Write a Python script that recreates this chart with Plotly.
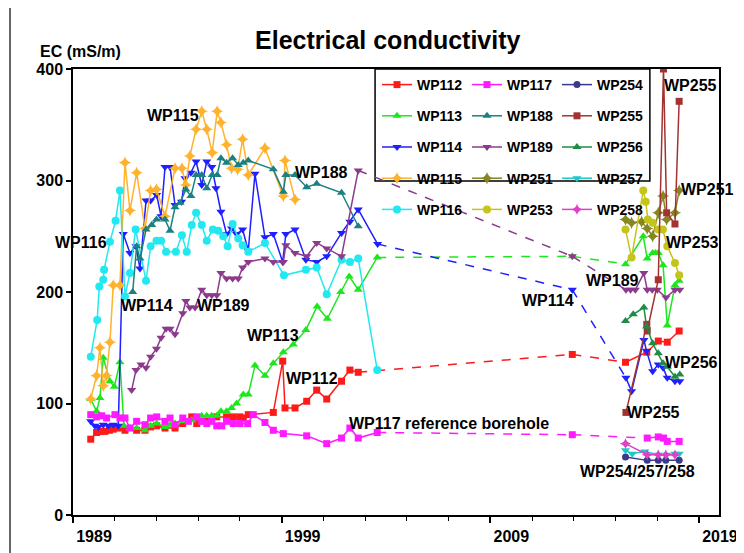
import plotly.graph_objects as go

# ---------------- data (year, EC in mS/m) ----------------
yr_WP112 = [1989.85, 1990.13, 1990.33, 1990.53, 1990.74, 1990.93, 1991.17, 1991.49, 1992.05, 1992.45,
            1992.72, 1993.01, 1993.41, 1993.89, 1994.26, 1994.69, 1994.93, 1995.41, 1995.89, 1996.36,
            1996.68, 1997.0, 1997.16, 1997.4, 1998.6, 1999.05, 1999.16, 1999.64, 2000.2, 2000.68,
            2001.16, 2001.87, 2002.27, 2002.67, 2012.93, 2015.48, 2016.5, 2017.05, 2017.48, 2018.05]
ec_WP112 = [68, 74, 75, 75, 76, 77, 78, 76, 76, 76,
            79, 80, 78, 78, 82, 88, 82, 84, 88, 88,
            88, 88, 87, 90, 92, 138, 96, 96, 102, 112,
            104, 120, 130, 128, 144, 137, 146, 156, 155, 165]

yr_WP113 = [1989.85, 1990.13, 1990.29, 1990.45, 1990.77, 1990.98, 1991.25, 1991.44, 1991.73, 1992.05,
            1992.45, 1992.72, 1993.01, 1993.41, 1993.65, 1993.89, 1994.26, 1994.69, 1995.17, 1995.41,
            1995.65, 1995.89, 1996.09, 1996.36, 1996.6, 1996.84, 1997.16, 1997.4, 1997.72, 1998.2,
            1998.6, 1999.08, 1999.56, 2000.16, 2000.7, 2001.19, 2001.83, 2002.24, 2002.67, 2003.58,
            2012.93, 2015.48, 2016.33, 2016.52, 2016.78, 2016.92, 2017.05, 2017.28, 2017.48, 2017.85, 2018.05]
ec_WP113 = [104, 93, 105, 141, 120, 115, 137, 80, 78, 78,
            76, 80, 82, 79, 81, 82, 84, 85, 89, 89,
            89, 89, 93, 93, 96, 100, 108, 108, 134, 125,
            136, 146, 153, 166, 187, 176, 200, 214, 202, 231,
            232, 225, 250, 230, 235, 235, 235, 224, 170, 206, 210]

yr_WP114 = [1989.85, 1990.05, 1990.21, 1990.45, 1990.69, 1990.93, 1991.17, 1991.41, 1991.73, 1992.02,
            1992.21, 1992.5, 1992.72, 1993.01, 1993.22, 1993.41, 1993.65, 1993.89, 1994.2, 1994.37,
            1994.65, 1994.9, 1995.17, 1995.41, 1995.65, 1995.85, 1996.09, 1996.36, 1996.6, 1996.84,
            1997.13, 1997.4, 1997.72, 1998.2, 1998.6, 1999.05, 1999.2, 1999.64, 2000.16, 2000.68,
            2001.16, 2001.87, 2002.27, 2002.67, 2003.6, 2012.93, 2015.5, 2015.77, 2016.36, 2016.49,
            2016.78, 2017.05, 2017.28, 2017.48, 2017.85, 2018.08]
ec_WP114 = [84, 80, 79, 81, 80, 81, 80, 252, 235, 241,
            221, 282, 282, 287, 268, 312, 312, 278, 281, 302,
            307, 317, 296, 317, 312, 293, 272, 252, 257, 252,
            256, 237, 306, 249, 252, 227, 252, 256, 229, 227,
            232, 253, 263, 274, 243, 202, 123, 111, 157, 147,
            129, 135, 132, 123, 120, 120]

yr_WP115 = [1989.85, 1990.13, 1990.29, 1990.45, 1990.6, 1990.77, 1990.93, 1991.25, 1991.49, 1991.73,
            1992.05, 1992.45, 1992.72, 1993.0, 1993.41, 1993.89, 1994.22, 1994.41, 1994.6, 1994.9,
            1995.17, 1995.41, 1995.67, 1995.91, 1996.09, 1996.36, 1996.6, 1996.89, 1997.13, 1997.4,
            1998.2, 1999.08, 1999.16, 1999.64]
ec_WP115 = [104, 125, 150, 116, 125, 155, 206, 206, 316, 273,
            307, 257, 291, 292, 268, 311, 311, 296, 322, 346,
            362, 346, 325, 362, 352, 332, 311, 310, 337, 305,
            329, 286, 318, 283]

yr_WP116 = [1989.85, 1990.16, 1990.26, 1990.45, 1990.49, 1990.77, 1991.04, 1991.25, 1991.49, 1991.73,
            1992.0, 1992.5, 1992.72, 1993.0, 1993.22, 1993.46, 1993.93, 1994.22, 1994.45, 1994.69,
            1994.9, 1995.17, 1995.41, 1995.7, 1995.96, 1996.2, 1996.41, 1996.65, 1996.92, 1997.13,
            1997.4, 1998.2, 1999.11, 2000.16, 2000.68, 2001.16, 2001.87, 2002.27, 2002.67, 2003.58]
ec_WP116 = [142, 175, 205, 211, 220, 245, 264, 291, 196, 217,
            256, 210, 241, 246, 246, 236, 236, 251, 236, 260,
            271, 260, 246, 256, 255, 250, 241, 261, 248, 242,
            236, 244, 215, 220, 222, 198, 229, 227, 230, 130]

yr_WP117 = [1989.85, 1990.13, 1990.37, 1990.61, 1991.01, 1991.25, 1991.49, 1991.73, 1992.05, 1992.45,
            1992.72, 1993.01, 1993.41, 1993.65, 1993.89, 1994.26, 1994.53, 1994.93, 1995.17, 1995.41,
            1995.65, 1995.89, 1996.13, 1996.36, 1996.68, 1997.0, 1997.37, 1997.64, 1998.2, 1998.6,
            1999.08, 2000.2, 2001.16, 2001.87, 2002.27, 2002.67, 2003.58, 2012.93, 2016.52, 2017.05,
            2017.3, 2017.48, 2018.05]
ec_WP117 = [90, 88, 89, 87, 90, 87, 87, 78, 84, 81,
            87, 88, 84, 87, 81, 87, 84, 88, 84, 82,
            84, 80, 80, 84, 82, 82, 82, 90, 83, 76,
            73, 71, 64, 69, 78, 69, 74, 72, 69, 70,
            69, 66, 66]

yr_WP188 = [1991.86, 1992.05, 1992.21, 1992.5, 1992.77, 1993.0, 1993.41, 1993.65, 1993.89, 1994.13,
            1994.41, 1994.65, 1994.9, 1995.17, 1995.41, 1995.67, 1995.91, 1996.09, 1996.36, 1996.65,
            1996.92, 1997.16, 1997.4, 1998.6, 1999.08, 1999.2, 1999.64, 2000.2, 2000.68, 2001.87, 2002.67]
ec_WP188 = [200, 241, 230, 256, 260, 265, 265, 255, 276, 280,
            292, 286, 305, 305, 293, 305, 305, 320, 316, 320,
            314, 316, 318, 310, 290, 305, 305, 294, 297, 289, 259]

yr_WP189 = [1991.81, 1992.02, 1992.26, 1992.5, 1992.72, 1993.0, 1993.22, 1993.46, 1993.65, 1993.89,
            1994.26, 1994.41, 1994.6, 1994.85, 1995.17, 1995.41, 1995.65, 1995.89, 1996.09, 1996.36,
            1996.65, 1996.92, 1997.13, 1997.4, 1998.2, 1998.6, 1999.08, 1999.2, 1999.64, 2000.2,
            2000.68, 2001.16, 2001.87, 2002.67, 2012.93, 2015.5, 2015.72, 2015.95, 2016.36, 2016.52,
            2016.76, 2017.0, 2017.42, 2017.85, 2018.08]
ec_WP189 = [112, 130, 135, 132, 142, 149, 159, 167, 167, 162,
            181, 192, 186, 186, 202, 197, 197, 197, 217, 212,
            212, 212, 222, 227, 230, 227, 227, 242, 235, 232,
            244, 239, 232, 309, 232, 202, 202, 202, 217, 202,
            202, 202, 195, 202, 202]

yr_WP251 = [2015.48, 2015.77, 2016.25, 2016.52, 2016.78, 2017.05, 2017.28, 2017.45, 2017.85, 2018.05]
ec_WP251 = [265, 262, 263, 257, 250, 271, 286, 265, 271, 291]

yr_WP253 = [2015.48, 2015.77, 2016.33, 2016.45, 2016.55, 2016.78, 2017.05, 2017.27, 2017.48, 2017.85, 2018.05]
ec_WP253 = [256, 231, 291, 281, 265, 262, 256, 256, 241, 226, 215]

yr_WP254 = [2015.48, 2016.52, 2017.05, 2017.41, 2018.05]
ec_WP254 = [52, 49, 49, 49, 49]

yr_WP255 = [2015.5, 2016.5, 2016.52, 2017.05, 2017.3, 2017.45, 2017.85, 2018.05]
ec_WP255 = [92, 171, 165, 211, 400, 271, 261, 371]

yr_WP256 = [2015.48, 2015.85, 2016.36, 2016.49, 2016.78, 2017.05, 2017.28, 2017.48, 2017.85, 2018.08]
ec_WP256 = [174, 180, 186, 169, 154, 145, 136, 133, 124, 126]

yr_WP257 = [2015.48, 2015.8, 2016.4, 2017.05, 2017.45, 2017.85, 2018.05]
ec_WP257 = [58, 55, 57, 54, 54, 55, 55]

yr_WP258 = [2015.48, 2016.52, 2017.05, 2017.41, 2017.85]
ec_WP258 = [64, 54, 54, 54, 54]

x_tick_labels = ["1989", "1999", "2009", "2019"]

# label texts and their anchor positions (year, EC)
label_text = ["WP115", "WP188", "WP116", "WP115", "WP114", "WP189", "WP113", "WP112",
              "WP117 reference borehole", "WP114", "WP189", "WP255", "WP251", "WP253",
              "WP256", "WP255", "WP254/257/258"]
label_year = [1993.79, 2000.93, 1989.38, 1988.9, 1992.55, 1996.19, 1998.58, 2000.45,
              2007.02, 2011.76, 2014.87, 2018.61, 2019.43, 2018.71, 2018.66, 2016.84, 2016.07]
label_ec = [358, 307, 244, 127, 188, 188, 161, 122,
            82, 192, 210, 385, 292, 244, 137, 92, 39]

# ---------------- styling ----------------
FONT = "Liberation Sans, Arial, Helvetica, sans-serif"
series = [
    ("WP112", yr_WP112, ec_WP112, "#ff1a1a", "square", 7, "legend"),
    ("WP113", yr_WP113, ec_WP113, "#1ee61e", "triangle-up", 8, "legend"),
    ("WP114", yr_WP114, ec_WP114, "#1f1fff", "triangle-down", 8, "legend"),
    ("WP115", yr_WP115, ec_WP115, "#ffb22e", "star-diamond", 9, "legend"),
    ("WP116", yr_WP116, ec_WP116, "#22e8f0", "circle", 8, "legend"),
    ("WP117", yr_WP117, ec_WP117, "#ff1aff", "square", 7, "legend2"),
    ("WP188", yr_WP188, ec_WP188, "#1a8080", "triangle-up", 8, "legend2"),
    ("WP189", yr_WP189, ec_WP189, "#8c3a8c", "triangle-down", 8, "legend2"),
    ("WP251", yr_WP251, ec_WP251, "#868622", "star-diamond", 9, "legend2"),
    ("WP253", yr_WP253, ec_WP253, "#c4c41a", "circle", 8, "legend2"),
    ("WP254", yr_WP254, ec_WP254, "#3a3a8c", "circle", 7, "legend3"),
    ("WP255", yr_WP255, ec_WP255, "#a33333", "square", 7, "legend3"),
    ("WP256", yr_WP256, ec_WP256, "#1e8c46", "triangle-up", 8, "legend3"),
    ("WP257", yr_WP257, ec_WP257, "#1ec8c8", "triangle-down", 8, "legend3"),
    ("WP258", yr_WP258, ec_WP258, "#e040c8", "star-diamond", 8, "legend3"),
]


def split_gaps(xs, ys, gap=2.0):
    sx, sy, dx, dy = [xs[0]], [ys[0]], [], []
    for i in range(1, len(xs)):
        if xs[i] - xs[i - 1] > gap:
            sx.append(None); sy.append(None)
            dx += [xs[i - 1], xs[i], None]
            dy += [ys[i - 1], ys[i], None]
        sx.append(xs[i]); sy.append(ys[i])
    return sx, sy, dx, dy


fig = go.Figure()
for name, xs, ys, col, sym, msz, leg in series:
    sx, sy, dx, dy = split_gaps(xs, ys)
    if dx:
        fig.add_trace(go.Scatter(x=dx, y=dy, mode="lines", line=dict(color=col, width=1.5, dash="dash"),
                                 showlegend=False, legendgroup=name, hoverinfo="skip", legend=leg))
    fig.add_trace(go.Scatter(x=sx, y=sy, mode="lines+markers", name=name, legendgroup=name, legend=leg,
                             line=dict(color=col, width=1.5),
                             marker=dict(symbol=sym, size=msz, color=col, line=dict(width=0))))

for t, xv, yv in zip(label_text, label_year, label_ec):
    fig.add_annotation(x=xv, y=yv, xref="x", yref="y", text=t, showarrow=False,
                       xanchor="center", yanchor="middle",
                       font=dict(family=FONT, size=16, color="black", weight="bold"))

fig.add_annotation(x=0.011, y=1.04, xref="paper", yref="paper", text="EC (mS/m)", showarrow=False,
                   xanchor="center", yanchor="middle",
                   font=dict(family=FONT, size=16, color="black", weight="bold"))

# outer frame line on the left and legend box
fig.add_shape(type="line", xref="paper", yref="paper", x0=-0.0975, x1=-0.0975, y0=-0.09, y1=1.16,
              line=dict(color="black", width=1.2))
L1, L2, L3 = 0.4706, 0.6099, 0.7492
fig.add_shape(type="rect", xref="paper", yref="paper", x0=L1 - 0.003, x1=0.893, y0=0.749, y1=1.0,
              line=dict(color="black", width=1.5), fillcolor="white", layer="below")

legend_common = dict(yanchor="top", y=1.0, xanchor="left", bgcolor="rgba(0,0,0,0)", borderwidth=0,
                     font=dict(family=FONT, size=14, color="black", weight="bold"),
                     itemclick=False, itemdoubleclick=False)

fig.update_layout(
    width=736, height=545,
    margin=dict(l=65, r=25, t=61, b=38, autoexpand=False),
    paper_bgcolor="white", plot_bgcolor="white",
    font=dict(family=FONT, color="black"),
    title=dict(text="Electrical conductivity", xref="container", x=0.516, xanchor="center",
               yref="container", y=0.941, yanchor="middle", automargin=False,
               font=dict(family=FONT, size=25, color="black", weight="bold")),
    legend=dict(x=L1, **legend_common),
    legend2=dict(x=L2, **legend_common),
    legend3=dict(x=L3, **legend_common),
    xaxis=dict(range=[1989, 2019.96], tickmode="linear", tick0=1989, dtick=10,
               ticks="outside", ticklen=6, tickwidth=1.5, tickcolor="black",
               minor=dict(tickmode="linear", tick0=1989, dtick=2, ticks="outside", ticklen=4,
                          tickwidth=1.2, tickcolor="black"),
               ticklabelshift=21, automargin=False,
               tickfont=dict(family=FONT, size=16, color="black", weight="bold"),
               showline=True, linecolor="black", linewidth=1.5, mirror=True,
               showgrid=False, zeroline=False),
    yaxis=dict(range=[0, 400], tickmode="linear", tick0=0, dtick=100, automargin=False,
               ticks="outside", ticklen=5, tickwidth=1.5, tickcolor="black",
               tickfont=dict(family=FONT, size=16, color="black", weight="bold"),
               showline=True, linecolor="black", linewidth=1.5, mirror=True,
               showgrid=False, zeroline=False),
)

fig.write_html("out.html")
